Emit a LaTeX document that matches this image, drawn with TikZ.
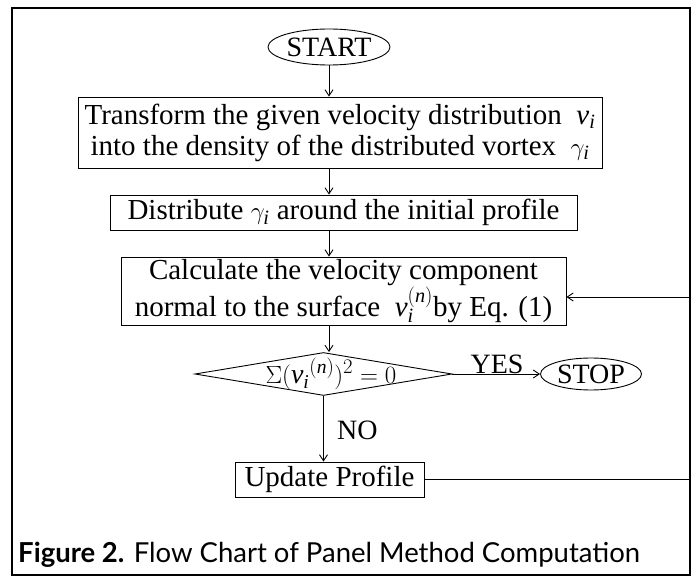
\documentclass[tikz,border=0pt]{standalone}
\usepackage{fontspec}
\setmainfont{Liberation Serif}
\newfontfamily\capfont{Lato}
\usetikzlibrary{shapes.geometric,arrows.meta}
\newcommand{\vv}{\mathit{v}}
\begin{document}
\begin{tikzpicture}[x=1pt,y=-1pt,
  box/.style={draw, line width=0.9pt, inner sep=0pt, align=center, font=\fontsize{29}{31}\selectfont},
  term/.style={draw, ellipse, line width=0.9pt, inner sep=0pt, font=\fontsize{28}{30}\selectfont},
  conn/.style={line width=0.9pt, -{Straight Barb[length=6pt,width=8pt]}},
  lab/.style={font=\fontsize{28}{30}\selectfont, inner sep=0pt}]
\useasboundingbox (0,0) rectangle (696,580);
\draw[line width=2pt] (12,8) rectangle (690,575);
\node[term, minimum width=122, minimum height=36] (start) at (329,47) {START};
\node[box, minimum width=524, minimum height=71] (b1) at (340,132.5)
  {Transform the given velocity distribution\ \ $\vv_{\mathit{i}}$\\into the density of the distributed vortex\ \ $\gamma_{\mathit{i}}$};
\node[box, minimum width=467, minimum height=35] (b2) at (343.5,212.5)
  {Distribute $\gamma_{\mathit{i}}$ around the initial profile};
\node[box, minimum width=445, minimum height=68] (b3) at (343.5,291)
  {Calculate the velocity component\\normal to the surface\ \ $\vv_{\mathit{i}}^{(\mathit{n})}$by Eq. (1)};
\node[draw, diamond, line width=0.9pt, minimum width=257, minimum height=43, inner sep=0pt] (dia) at (323.5,374) {};
\node[lab] (diat) at (331,374) {$\displaystyle\Sigma(\vv_{\mathit{i}}{}^{(\mathit{n})})^2=0$};
\node[term, minimum width=101, minimum height=32] (stop) at (591,374) {STOP};
\node[box, minimum width=189, minimum height=35] (up) at (329.5,479.5) {Update Profile};
\node[lab] (yes) at (497,364) {YES};
\node[lab, anchor=west] (no) at (337,430) {NO};
\coordinate (fr) at (690,480);
\coordinate (fb) at (690,297);
\draw[conn] (start.south) -- (start.south |- b1.north);
\draw[conn] (b1.south -| start.south) -- (start.south |- b2.north);
\draw[conn] (b2.south -| start.south) -- (start.south |- b3.north);
\draw[conn] (b3.south -| start.south) -- (start.south |- dia.north);
\draw[conn] (dia.south) -- (dia.south |- up.north);
\draw[conn] (dia.east) -- (stop.west);
\draw[line width=0.9pt] (up.east) -- (up.east -| fr) -- (fb) edge[conn] (fb -| b3.east);
\node[anchor=base west, inner sep=0pt, font=\capfont\fontsize{27.5}{30}\selectfont] (cap) at (18,562)
  {\textbf{Figure 2.} Flow Chart of Panel Method Computation};
\end{tikzpicture}
\end{document}
